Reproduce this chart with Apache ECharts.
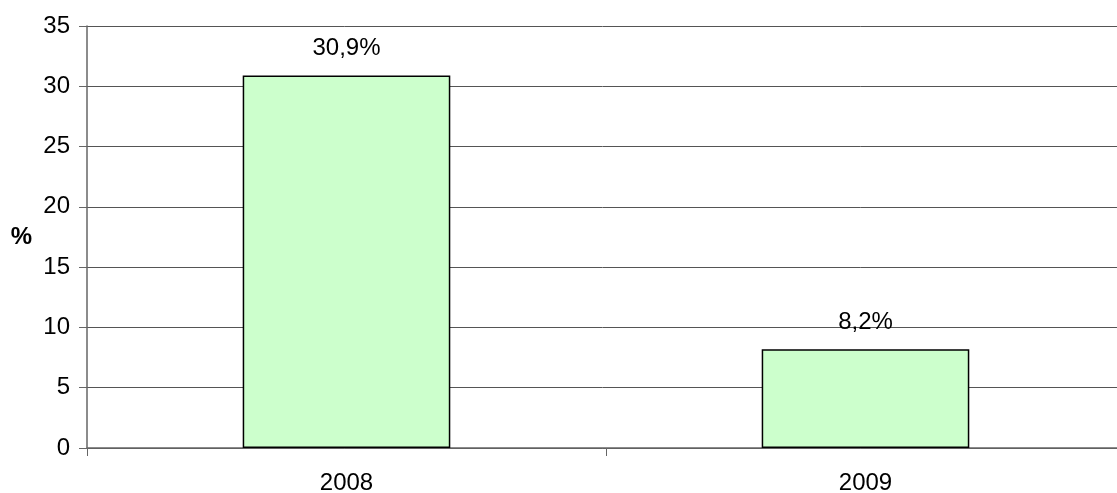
<!DOCTYPE html>
<html>
<head>
<meta charset="utf-8">
<script src="https://cdn.jsdelivr.net/npm/echarts@6/dist/echarts.min.js"></script>
<style>
  html, body { margin: 0; padding: 0; background: #fff; }
  #chart { width: 1117px; height: 493px; }
</style>
</head>
<body>
<div id="chart"></div>
<script>
// dati
var years = ['2008', '2009'];
var values = [30.9, 8.2];
var yTicks = { min: 0, max: 35, step: 5 };

var myChart = echarts.init(document.getElementById('chart'));
var font = '"Liberation Sans", Arial, sans-serif';

var option = {
    animation: false,
    grid: { left: 87, width: 1038, top: 26, bottom: 45, outerBoundsMode: 'none', containLabel: false },
    xAxis: {
        type: 'category',
        data: years,
        axisLine: { lineStyle: { color: '#666', width: 1.5 } },
        axisTick: { show: true, length: 8, alignWithLabel: false, lineStyle: { color: '#666' } },
        axisLabel: { color: '#000', fontSize: 24, fontFamily: font, margin: 23 }
    },
    yAxis: {
        type: 'value',
        min: yTicks.min,
        max: yTicks.max,
        interval: yTicks.step,
        name: '%',
        nameLocation: 'middle',
        nameRotate: 0,
        nameGap: 55,
        nameTextStyle: { color: '#000', fontSize: 24, fontWeight: 'bold', fontFamily: font },
        axisLine: { show: true, lineStyle: { color: '#666', width: 1.5 } },
        axisTick: { show: true, length: 8, lineStyle: { color: '#666' } },
        axisLabel: { color: '#000', fontSize: 24, fontFamily: font, margin: 17 },
        splitLine: { lineStyle: { color: '#555', width: 1 } }
    },
    series: [{
        type: 'bar',
        data: values,
        barWidth: '40%',
        itemStyle: { color: '#ccffcc', borderColor: '#000', borderWidth: 1.5 },
        label: {
            show: true,
            position: 'top',
            distance: 15,
            color: '#000',
            fontSize: 24,
            fontFamily: font,
            formatter: function (p) { return String(p.value).replace('.', ',') + '%'; }
        }
    }]
};

myChart.setOption(option);
</script>
</body>
</html>
